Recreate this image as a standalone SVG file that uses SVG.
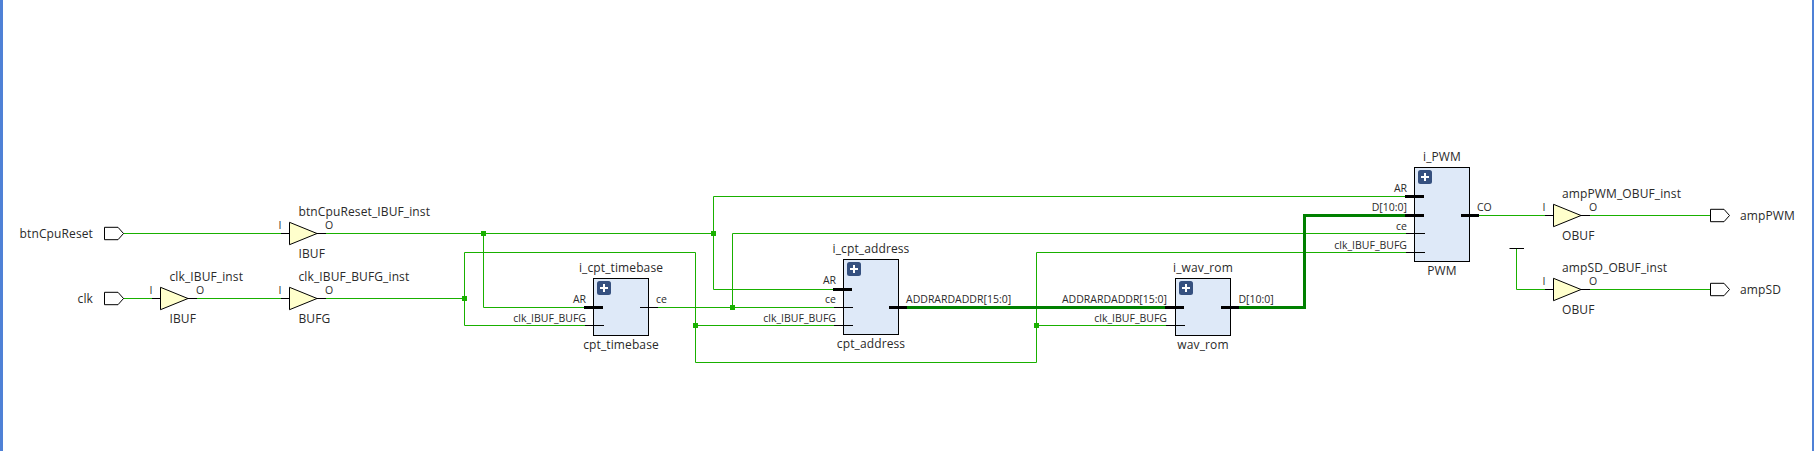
<svg xmlns="http://www.w3.org/2000/svg" width="1814" height="451" viewBox="0 0 1814 451">
<style>
text{font-family:"Open Sans","Noto Sans","DejaVu Sans",sans-serif;fill:#2a2a2a}
.n{font-size:12px;letter-spacing:.12px}
.p{font-size:10.5px}
.e{text-anchor:end}
.m{text-anchor:middle}
.w{fill:none;stroke:#19b000;stroke-width:1}
.b{fill:none;stroke:#008000;stroke-width:3}
.j{fill:#19b000}
.s{stroke:#000;stroke-width:1;fill:none}
.t{stroke:#000;stroke-width:3;fill:none}
.box{fill:#dee9f8;stroke:#000;stroke-width:1}
.buf{fill:#ffffcc;stroke:#000;stroke-width:1}
.port{fill:#fff;stroke:#000;stroke-width:1}
.ic{fill:#35507f}
.pl{fill:#fff}
</style>
<defs>
<rect id="j" class="j" x="-2.5" y="-2.5" width="5" height="5"/>
<path id="port" class="port" d="M0 -6.2H13.5L19 0L13.5 6.2H0Z"/>
<path id="tri" class="buf" d="M0 -11.2L27.5 0L0 11.2Z"/>
<g id="plus"><rect class="ic" width="14" height="14" rx="2.5"/><path class="pl" d="M6 3h2v3h3v2H8v3H6V8H3V6h3z"/></g>
</defs>
<rect x="0" y="0" width="3" height="451" fill="#4f81d6"/>
<rect x="1812" y="0" width="2" height="451" fill="#4f81d6"/>

<g id="connectors">
<path class="w" d="M123 233.5H281"/>
<path class="w" d="M326 233.5H713.5"/>
<path class="w" d="M483.5 233.5V307.5H584"/>
<path class="w" d="M713.5 289.5V196.5H1405"/>
<path class="w" d="M713.5 289.5H833"/>
<path class="w" d="M658 307.5H834"/>
<path class="w" d="M732.5 307.5V233.5H1406"/>
<path class="w" d="M123 298.5H152"/>
<path class="w" d="M197 298.5H281"/>
<path class="w" d="M326 298.5H464.5"/>
<path class="w" d="M585 325.5H464.5V252.5H695.5V362.5H1036.5V252.5H1406"/>
<path class="w" d="M695.5 325.5H834"/>
<path class="w" d="M1036.5 325.5H1166"/>
<path class="b" d="M907 307.5H1165"/>
<path class="b" d="M1239 307.5H1304.5V215.5H1405"/>
<path class="w" d="M1479 215.5H1545"/>
<path class="w" d="M1590 215.5H1710"/>
<path class="w" d="M1516.5 248.5V289.5H1545"/>
<path class="w" d="M1590 289.5H1710"/>
<path class="s" d="M1509.5 248.5H1524"/>
<use href="#j" x="483.5" y="233.5"/>
<use href="#j" x="713.5" y="233.5"/>
<use href="#j" x="464.5" y="298.5"/>
<use href="#j" x="732.5" y="307.5"/>
<use href="#j" x="695.5" y="325.5"/>
<use href="#j" x="1036.5" y="325.5"/>
</g>

<g id="btnCpuReset"><use href="#port" x="104.5" y="233.5"/><text class="n e" x="93" y="238">btnCpuReset</text></g>
<g id="clk"><use href="#port" x="104.5" y="298.5"/><text class="n e" x="93" y="303">clk</text></g>
<g id="ampPWM"><use href="#port" x="1710.5" y="215.5"/><text class="n" x="1740" y="220">ampPWM</text></g>
<g id="ampSD"><use href="#port" x="1710.5" y="289.5"/><text class="n" x="1740" y="294">ampSD</text></g>

<g id="btnCpuReset_IBUF_inst">
<path class="s" d="M281 233.5H290M317 233.5H326"/><use href="#tri" x="289.5" y="233.5"/>
<text class="n" x="298.5" y="216">btnCpuReset_IBUF_inst</text>
<text class="p" x="278.5" y="229">I</text><text class="p" x="325" y="229">O</text>
<text class="n" x="298.5" y="258">IBUF</text>
</g>
<g id="clk_IBUF_inst">
<path class="s" d="M152 298.5H161M188 298.5H197"/><use href="#tri" x="160.5" y="298.5"/>
<text class="n" x="169.5" y="281">clk_IBUF_inst</text>
<text class="p" x="149.5" y="294">I</text><text class="p" x="196" y="294">O</text>
<text class="n" x="169.5" y="323">IBUF</text>
</g>
<g id="clk_IBUF_BUFG_inst">
<path class="s" d="M281 298.5H290M317 298.5H326"/><use href="#tri" x="289.5" y="298.5"/>
<text class="n" x="298.5" y="281">clk_IBUF_BUFG_inst</text>
<text class="p" x="278.5" y="294">I</text><text class="p" x="325" y="294">O</text>
<text class="n" x="298.5" y="323">BUFG</text>
</g>

<g id="i_cpt_timebase">
<rect class="box" x="593.5" y="278.5" width="55" height="57"/><use href="#plus" x="597" y="281"/>
<path class="t" d="M584 307.5H603"/><path class="s" d="M585 325.5H604M640 307.5H658"/>
<text class="n m" x="621" y="272">i_cpt_timebase</text><text class="n m" x="621" y="349">cpt_timebase</text>
<text class="p e" x="586" y="303">AR</text><text class="p e" x="586" y="321.5">clk_IBUF_BUFG</text><text class="p" x="656" y="303">ce</text>
</g>
<g id="i_cpt_address">
<rect class="box" x="843.5" y="259.5" width="55" height="75"/><use href="#plus" x="847" y="262"/>
<path class="t" d="M833 289.5H852M889 307.5H907"/><path class="s" d="M834 307.5H853M834 325.5H853"/>
<text class="n m" x="871" y="253">i_cpt_address</text><text class="n m" x="871" y="348">cpt_address</text>
<text class="p e" x="836" y="284">AR</text><text class="p e" x="836" y="303">ce</text><text class="p e" x="836" y="321.5">clk_IBUF_BUFG</text>
<text class="p" x="906" y="303">ADDRARDADDR[15:0]</text>
</g>
<g id="i_wav_rom">
<rect class="box" x="1175.5" y="278.5" width="55" height="57"/><use href="#plus" x="1179" y="281"/>
<path class="t" d="M1165 307.5H1184M1221 307.5H1239"/><path class="s" d="M1166 325.5H1185"/>
<text class="n m" x="1203" y="272">i_wav_rom</text><text class="n m" x="1203" y="349">wav_rom</text>
<text class="p e" x="1167" y="303">ADDRARDADDR[15:0]</text><text class="p e" x="1167" y="321.5">clk_IBUF_BUFG</text>
<text class="p" x="1238.5" y="303">D[10:0]</text>
</g>
<g id="i_PWM">
<rect class="box" x="1414.5" y="167.5" width="55" height="94"/><use href="#plus" x="1418" y="170"/>
<path class="t" d="M1405 196.5H1424M1405 215.5H1424M1461 215.5H1479"/><path class="s" d="M1406 233.5H1425M1406 252.5H1425"/>
<text class="n m" x="1442" y="161">i_PWM</text><text class="n m" x="1442" y="275">PWM</text>
<text class="p e" x="1407" y="192">AR</text><text class="p e" x="1407" y="211">D[10:0]</text><text class="p e" x="1407" y="230">ce</text><text class="p e" x="1407" y="248.5">clk_IBUF_BUFG</text>
<text class="p" x="1477" y="211">CO</text>
</g>
<g id="ampPWM_OBUF_inst">
<path class="s" d="M1545 215.5H1554M1581 215.5H1590"/><use href="#tri" x="1553.5" y="215.5"/>
<text class="n" x="1562" y="198">ampPWM_OBUF_inst</text>
<text class="p" x="1542.5" y="211">I</text><text class="p" x="1589" y="211">O</text>
<text class="n" x="1562" y="240">OBUF</text>
</g>
<g id="ampSD_OBUF_inst">
<path class="s" d="M1545 289.5H1554M1581 289.5H1590"/><use href="#tri" x="1553.5" y="289.5"/>
<text class="n" x="1562" y="272">ampSD_OBUF_inst</text>
<text class="p" x="1542.5" y="285">I</text><text class="p" x="1589" y="285">O</text>
<text class="n" x="1562" y="314">OBUF</text>
</g>
</svg>
